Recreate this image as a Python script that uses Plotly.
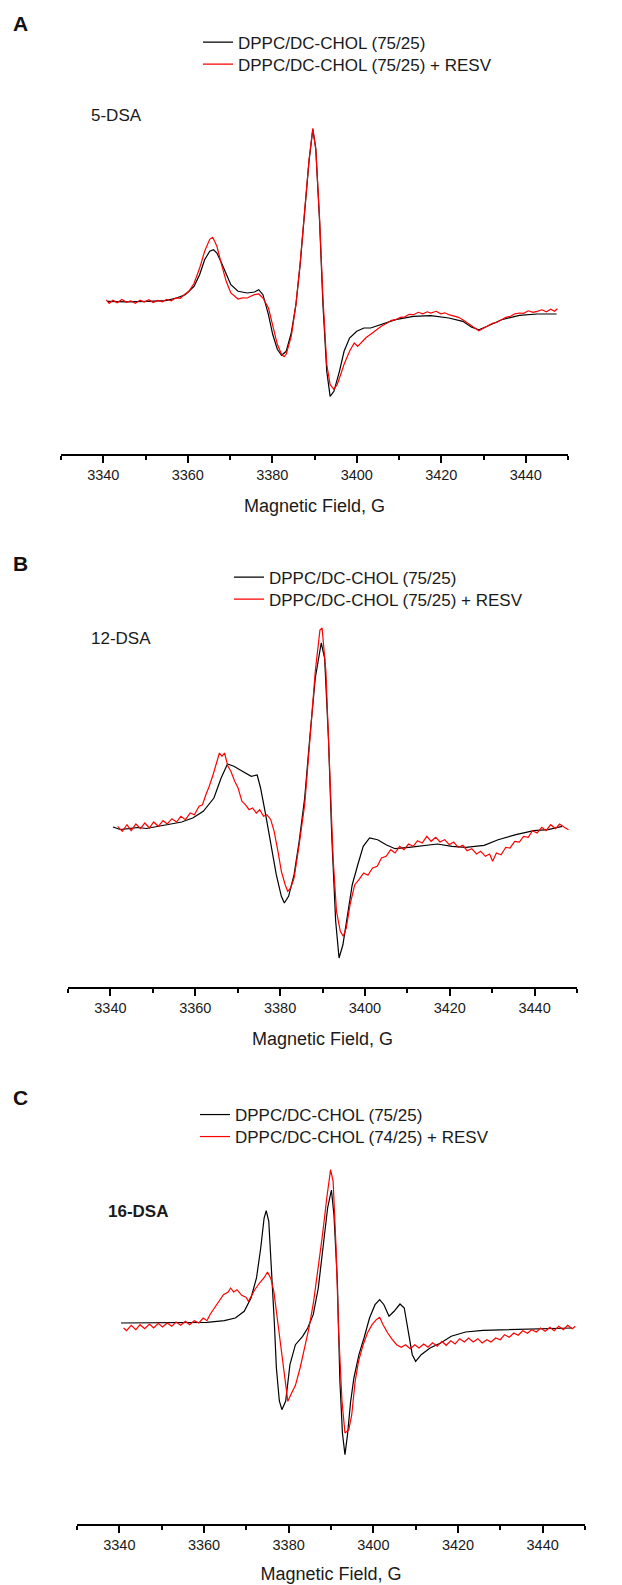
import plotly.graph_objects as go

# ---------------- DATA ----------------
# Panel A : 5-DSA  (magnetic field in G, EPR signal in arbitrary units)
field_a_ctrl = [3341.0, 3345.5, 3350.6, 3354.8, 3357.3, 3359.4, 3361.5, 3362.8, 3364.0, 3365.2, 3366.1, 3366.9,
                3368.0, 3369.1, 3370.2, 3371.9, 3374.1, 3375.8, 3376.8, 3377.8, 3379.1, 3380.1, 3381.2, 3382.2,
                3383.3, 3384.5, 3385.6, 3386.6, 3387.7, 3388.7, 3389.6, 3390.3, 3391.2, 3392.0, 3392.9, 3393.7,
                3394.6, 3395.9, 3397.0, 3398.3, 3400.0, 3401.7, 3403.3, 3405.8, 3409.2, 3413.4, 3417.5, 3421.8,
                3425.1, 3427.2, 3428.9, 3430.9, 3434.3, 3438.5, 3442.7, 3447.3]
sig_a_ctrl = [0, -0.5, 0, 0.6, 3.3, 6.6, 15, 26.6, 41.6, 50, 51.6, 48.3,
              38.3, 26.6, 16.6, 10, 8.3, 9.3, 11.6, 6.6, -13.4, -33, -48, -54,
              -50, -31.7, -3.4, 36.6, 90, 140, 172, 153, 80, -3.4, -70, -95,
              -90, -70, -50, -36.7, -30, -26.7, -26.7, -23.4, -18.4, -15, -14.4, -16.7,
              -20, -26, -28.4, -25, -18.4, -14, -12.7, -12.7]

field_a_resv = [3340.7, 3341.4, 3342.3, 3343.3, 3344.4, 3345.5, 3346.5, 3347.6, 3348.7, 3349.7, 3350.8, 3351.8,
                3352.9, 3354.0, 3355.0, 3356.1, 3357.2, 3358.2, 3359.3, 3360.3, 3361.5, 3362.8, 3364.0, 3365.2,
                3365.9, 3366.9, 3368.0, 3369.1, 3370.2, 3371.1, 3371.9, 3373.0, 3374.1, 3374.9, 3375.8, 3376.8,
                3377.8, 3379.1, 3380.1, 3381.2, 3382.2, 3382.8, 3383.3, 3384.5, 3385.6, 3386.6, 3387.7, 3388.7,
                3389.6, 3390.3, 3391.2, 3392.0, 3392.9, 3393.7, 3394.6, 3395.4, 3396.3, 3397.0, 3398.3, 3399.4,
                3400.2, 3401.3, 3402.3, 3403.3, 3404.5, 3405.8, 3407.1, 3408.2, 3409.2, 3410.3, 3411.4, 3412.4,
                3413.4, 3414.6, 3415.6, 3416.7, 3417.5, 3418.8, 3419.9, 3420.9, 3421.8, 3423.1, 3424.1, 3425.1,
                3426.3, 3427.2, 3428.1, 3428.9, 3430.0, 3430.9, 3432.1, 3433.2, 3434.3, 3435.3, 3436.4, 3437.4,
                3438.5, 3439.5, 3440.6, 3441.7, 3442.7, 3443.8, 3444.9, 3445.9, 3446.8, 3447.5]
sig_a_resv = [1.5, -2, 1, -1.5, 1.8, -1, 0.5, -2, 1.2, -0.8, 1.5, -1.2,
              0.8, -0.5, 2, 0.5, 3.5, 3, 7, 10, 18, 33, 50, 62,
              64, 55, 36.6, 20, 8.3, 5, 2.3, 3.5, 3.3, 5, 6.6, 7.3,
              3.3, -6.7, -25, -43, -53, -55.4, -53, -35, -3.4, 38, 92, 141,
              173, 152, 83, 3.3, -63, -83.4, -88, -83, -72, -63, -50, -41.7,
              -45, -40, -36, -33, -29, -25, -22, -19, -18.4, -16, -15.5, -13,
              -13.4, -11, -12.5, -10.5, -11.7, -10, -12.5, -11.5, -13.4, -15, -16, -18.4,
              -22, -25, -27, -29.4, -27, -25, -22, -21, -18.4, -16, -15, -12.5,
              -11.7, -12, -9.5, -11, -10, -8.5, -10.5, -8, -10, -7.5]

# Panel B : 12-DSA
field_b_ctrl = [3340.6, 3342.3, 3344.3, 3346.5, 3348.5, 3350.8, 3352.7, 3354.5, 3356.8, 3359.4, 3361.9, 3364.4,
                3366.1, 3367.6, 3369.1, 3371.1, 3373.2, 3374.6, 3375.4, 3376.6, 3377.8, 3379.1, 3380.3, 3381.0,
                3382.0, 3383.3, 3384.5, 3385.8, 3387.0, 3388.3, 3389.7, 3390.5, 3391.4, 3392.2, 3393.1, 3393.9,
                3394.8, 3395.9, 3397.0, 3398.3, 3399.6, 3401.1, 3403.0, 3405.0, 3407.1, 3410.4, 3413.8, 3417.1,
                3420.5, 3423.8, 3428.1, 3431.4, 3435.6, 3439.8, 3443.2, 3446.5]
sig_b_ctrl = [1, -1.5, -0.7, 0.5, -0.5, 1.5, 2.5, 4.5, 6, 10, 16.7, 30,
              50, 64, 61.7, 56.7, 51.7, 53, 40, 13.3, -16.7, -46.7, -68.3, -75,
              -68.3, -46.7, -13.3, 30, 90, 150, 185, 170, 90, -10, -93, -130,
              -117, -87, -57, -37, -18.3, -10, -11.7, -16.7, -20.7, -19.3, -17.3, -16,
              -18.3, -19.3, -17.3, -11.7, -6.7, -2.7, -1.7, 1.7]

field_b_resv = [3341.7, 3342.8, 3343.9, 3344.9, 3346.0, 3347.1, 3348.1, 3349.2, 3350.2, 3351.3, 3352.4,
                3353.4, 3354.5, 3355.6, 3356.6, 3357.7, 3358.8, 3359.8, 3360.9, 3361.7, 3362.5, 3363.3, 3364.2,
                3365.0, 3365.7, 3366.3, 3366.9, 3367.7, 3368.4, 3369.3, 3370.1, 3371.0, 3371.8, 3372.7, 3373.5,
                3374.4, 3375.2, 3376.1, 3376.9, 3377.8, 3378.6, 3379.5, 3380.3, 3381.2, 3381.8, 3382.5, 3383.3,
                3384.5, 3385.8, 3387.0, 3388.3, 3389.4, 3389.9, 3390.8, 3391.6, 3392.5, 3393.3, 3394.2, 3394.9,
                3395.6, 3396.5, 3397.6, 3398.6, 3399.7, 3400.7, 3401.8, 3402.9, 3403.9, 3405.0, 3406.1, 3407.1,
                3408.2, 3409.2, 3410.3, 3411.4, 3412.4, 3413.5, 3414.6, 3415.6, 3416.7, 3417.7, 3418.8, 3419.9,
                3420.9, 3422.0, 3423.1, 3424.1, 3425.2, 3426.3, 3427.3, 3428.4, 3429.4, 3430.1, 3431.0, 3432.1,
                3433.2, 3434.2, 3435.3, 3436.4, 3437.4, 3438.5, 3439.5, 3440.6, 3441.7, 3442.7, 3443.8, 3444.9,
                3445.9, 3447.0, 3448.0]
sig_b_resv = [1.7, -3.3, 3.3, -2.7, 4, -0.7, 5, 0, 6, 1.7, 7.3,
              4, 9.3, 6, 11.7, 8.3, 15, 13.3, 21.7, 23.3, 33.3, 41.7, 53.3,
              65, 75, 71.7, 75, 61.7, 56.7, 46.7, 40, 26.7, 23.3, 18.3, 20,
              15, 18.3, 11.7, 13.3, 8.3, -3.3, -23.3, -43.3, -56.7, -63.3, -60, -50,
              -16.7, 23.3, 86.7, 156.7, 198, 200, 156.7, 63.3, -30, -83.3, -103.3, -108.3,
              -100, -76.7, -56.7, -51.7, -45, -47.3, -40, -38.3, -30, -28.3, -21.7, -25,
              -18.3, -21.7, -16, -18.3, -12.7, -15, -8.3, -13.3, -9.3, -14, -11.7, -16.7,
              -14, -19.3, -17.3, -22.7, -20.7, -26, -23.3, -28.3, -26, -33.3, -25, -26.7,
              -19.3, -20, -13.3, -14, -8.3, -9.3, -2.7, -5, 0.7, -2.7, 3.3, -0.7,
              4, 0.7, -1.7]

# Panel C : 16-DSA
field_c_ctrl = [3340.4, 3346.4, 3354.8, 3360.7, 3364.8, 3367.4, 3369.5, 3371.1, 3372.4, 3373.4, 3374.2, 3374.7,
                3375.3, 3375.9, 3376.6, 3377.1, 3377.8, 3378.4, 3379.3, 3380.3, 3381.6, 3383.3, 3384.5, 3385.8,
                3387.0, 3388.1, 3389.2, 3390.1, 3390.7, 3391.5, 3392.1, 3392.7, 3393.3, 3393.9, 3394.6, 3395.4,
                3396.6, 3397.8, 3399.1, 3400.4, 3401.5, 3402.5, 3403.7, 3404.9, 3406.3, 3407.3, 3408.4, 3409.2,
                3410.0, 3411.3, 3413.4, 3415.9, 3418.4, 3421.8, 3425.9, 3430.9, 3436.8, 3442.7, 3446.9]
sig_c_ctrl = [0, 0, 0, 0.7, 2.3, 5, 11.7, 25, 45, 75, 105, 112.3,
              101.7, 58, 1.7, -45, -78, -86.7, -78, -41.7, -21.7, -13.3, -5, 8.3,
              35, 75, 115, 133, 108, 41.7, -58, -110, -131.7, -111.7, -80, -55,
              -31.7, -15, 5, 18.3, 23.3, 18.3, 6.7, 11.7, 19, 15, -11.7, -31.7,
              -38.3, -31.7, -25, -20, -13.3, -9, -7.3, -6.7, -6, -5.7, -5]

field_c_resv = [3341.0, 3341.7, 3342.8, 3343.9, 3344.9, 3346.0, 3347.1, 3348.1, 3349.2, 3350.2, 3351.3,
                3352.4, 3353.4, 3354.5, 3355.6, 3356.6, 3357.7, 3358.8, 3359.8, 3360.7, 3361.5, 3362.5, 3363.5,
                3364.6, 3365.7, 3366.3, 3367.0, 3367.8, 3368.9, 3369.9, 3370.5, 3371.3, 3372.0, 3373.1, 3374.2,
                3375.0, 3375.8, 3376.5, 3377.4, 3378.2, 3379.1, 3379.8, 3380.5, 3381.6, 3382.7, 3383.7, 3384.8,
                3385.9, 3386.9, 3388.0, 3389.0, 3389.9, 3390.5, 3391.2, 3391.8, 3392.6, 3393.3, 3394.2, 3394.9,
                3395.7, 3396.5, 3397.6, 3398.6, 3399.7, 3400.7, 3401.5, 3402.3, 3403.4, 3404.5, 3405.5, 3406.6,
                3407.6, 3408.7, 3409.8, 3410.8, 3411.9, 3412.9, 3414.0, 3415.1, 3416.2, 3417.2, 3418.3, 3419.3,
                3420.4, 3421.5, 3422.5, 3423.6, 3424.7, 3425.7, 3426.8, 3427.8, 3428.9, 3430.0, 3431.0, 3432.1,
                3433.2, 3434.2, 3435.3, 3436.4, 3437.4, 3438.5, 3439.5, 3440.6, 3441.7, 3442.7, 3443.8, 3444.9,
                3445.9, 3447.0, 3447.7]
sig_c_resv = [-5, -7.7, -2.3, -6.7, -1.7, -5.7, -1, -5, -0.3, -4, 0,
              -3.3, 1, -2.3, 1.7, -1.7, 2.3, 0, 5, 2.3, 9, 15, 21,
              28.3, 31, 35, 31, 33.3, 27.7, 25.7, 21.7, 28.3, 33.3, 40, 45.3,
              51, 44.3, 31.7, 1.7, -25, -55, -78.3, -71.7, -62.3, -45, -25, -5,
              21.7, 51.7, 88.3, 125, 153.3, 141.7, 75, -8.3, -78.3, -110, -107, -91.7,
              -58.3, -38.3, -21.7, -10, -1.7, 3.3, 5.7, -1.7, -10, -16.7, -21.7, -24.3,
              -21.7, -25.7, -21.7, -25, -21, -24.3, -19.7, -23.3, -18.3, -22.3, -17.7, -21,
              -15.7, -19, -15, -19, -15.7, -20, -16.7, -19, -15, -16.7, -11.7, -14.3,
              -10, -12.3, -7.7, -10.3, -6.7, -9, -5, -8.3, -4.3, -7.7, -3.3, -6.7,
              -2.3, -5.7, -3.3]

panel_letters = ["A", "B", "C"]
probe_labels = ["5-DSA", "12-DSA", "<b>16-DSA</b>"]
legend_ctrl = ["DPPC/DC-CHOL (75/25)", "DPPC/DC-CHOL (75/25)", "DPPC/DC-CHOL (75/25)"]
legend_resv = ["DPPC/DC-CHOL (75/25) + RESV", "DPPC/DC-CHOL (75/25) + RESV", "DPPC/DC-CHOL (74/25) + RESV"]
x_title = "Magnetic Field, G"
tick_vals = [3340, 3360, 3380, 3400, 3420, 3440]

# ---------------- FIGURE ----------------
W, H = 622, 1585
FONT = "Liberation Sans, Arial, sans-serif"
TXT = "#1a1a1a"

panels = [
    dict(ctrl=(field_a_ctrl, sig_a_ctrl), resv=(field_a_resv, sig_a_resv),
         xdom=(53, 560), ydom=(110, 446), yr=(-152.7, 183.3),
         leg_x=190, leg_y=(34.5, 56.5), letter=(3, 15), probe=(81, 107), standoff=17),
    dict(ctrl=(field_b_ctrl, sig_b_ctrl), resv=(field_b_resv, sig_b_resv),
         xdom=(60, 569), ydom=(605, 979), yr=(-159, 215),
         leg_x=221, leg_y=(569.5, 591.5), letter=(3, 555), probe=(81, 630), standoff=17),
    dict(ctrl=(field_c_ctrl, sig_c_ctrl), resv=(field_c_resv, sig_c_resv),
         xdom=(69, 577), ydom=(1150, 1516), yr=(-201, 165),
         leg_x=187, leg_y=(1107, 1129), letter=(3, 1089), probe=(98, 1203), standoff=15),
]

fig = go.Figure()
layout = dict(width=W, height=H, margin=dict(l=0, r=0, t=0, b=0),
              paper_bgcolor="white", plot_bgcolor="white",
              font=dict(family=FONT, color=TXT), annotations=[], showlegend=True)

leg_counter = 0
for i, p in enumerate(panels):
    sfx = "" if i == 0 else str(i + 1)
    series = [(p["ctrl"], legend_ctrl[i], "#000000", p["leg_y"][0]),
              (p["resv"], legend_resv[i], "#ff0000", p["leg_y"][1])]
    for (xs, ys), name, color, ly in series:
        leg_counter += 1
        leg = "legend" if leg_counter == 1 else f"legend{leg_counter}"
        fig.add_trace(go.Scatter(x=xs, y=ys, mode="lines", name=name,
                                 line=dict(color=color, width=1.2), xaxis="x" + sfx, yaxis="y" + sfx,
                                 legend=leg))
        layout[leg] = dict(x=p["leg_x"] / W, y=1 - ly / H, xanchor="left", yanchor="middle",
                           bgcolor="rgba(0,0,0,0)", borderwidth=0,
                           font=dict(size=17, family=FONT, color=TXT))
    layout["xaxis" + sfx] = dict(
        domain=[p["xdom"][0] / W, p["xdom"][1] / W], range=[3330, 3450], anchor="y" + sfx,
        showline=True, linecolor="black", linewidth=1.5, ticks="outside", ticklen=7, tickwidth=1.5,
        tickcolor="black", tickvals=tick_vals, tickformat="d", showgrid=False, zeroline=False,
        tickfont=dict(size=14.5, family=FONT, color=TXT),
        minor=dict(dtick=10, tick0=3330, ticks="outside", ticklen=4, tickwidth=1.5, tickcolor="black",
                   showgrid=False),
        title=dict(text=x_title, font=dict(size=18, family=FONT, color=TXT), standoff=p["standoff"]),
    )
    layout["yaxis" + sfx] = dict(
        domain=[1 - p["ydom"][1] / H, 1 - p["ydom"][0] / H], range=list(p["yr"]), anchor="x" + sfx,
        visible=False, showgrid=False, zeroline=False)
    layout["annotations"].append(dict(text=f"<b>{panel_letters[i]}</b>", x=p["letter"][0] / W,
                                      y=1 - p["letter"][1] / H, xref="paper", yref="paper",
                                      xanchor="left", yanchor="middle", showarrow=False,
                                      font=dict(size=21, family=FONT, color="#111")))
    layout["annotations"].append(dict(text=probe_labels[i], x=p["probe"][0] / W, y=1 - p["probe"][1] / H,
                                      xref="paper", yref="paper", xanchor="left", yanchor="middle",
                                      showarrow=False, font=dict(size=17, family=FONT, color=TXT)))

fig.update_layout(**layout)
fig.write_html("out.html")
